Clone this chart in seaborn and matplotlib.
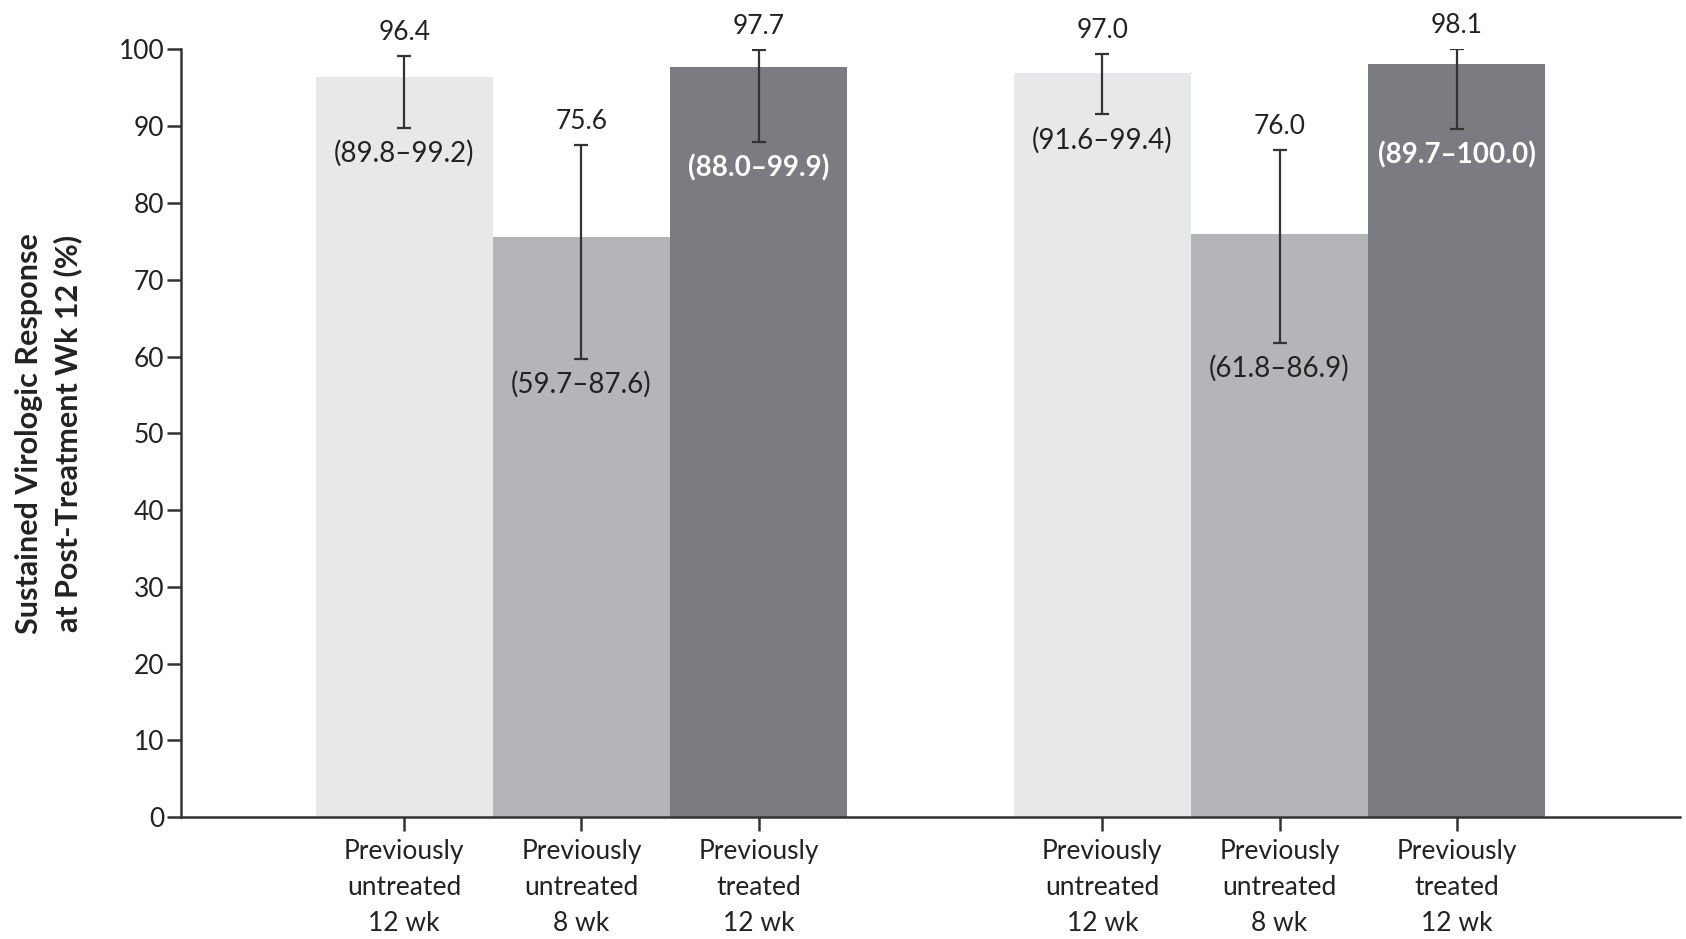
import matplotlib
matplotlib.use("Agg")
import matplotlib.pyplot as plt
import numpy as np
import pandas as pd
import seaborn as sns

# SVR12 by patient group, two study cohorts of three arms each
arms = ["Previously\nuntreated\n12 wk", "Previously\nuntreated\n8 wk", "Previously\ntreated\n12 wk"]
cohort_a_svr = [96.4, 75.6, 97.7]
cohort_a_lo = [89.8, 59.7, 88.0]
cohort_a_hi = [99.2, 87.6, 99.9]
cohort_b_svr = [97.0, 76.0, 98.1]
cohort_b_lo = [91.6, 61.8, 89.7]
cohort_b_hi = [99.4, 86.9, 100.0]
y_ticks = [0, 10, 20, 30, 40, 50, 60, 70, 80, 90, 100]

arm_colors = {arms[0]: "#e6e8ea", arms[1]: "#b3b5b9", arms[2]: "#7a7c81"}
ci_text_colors = {arms[0]: "#222222", arms[1]: "#222222", arms[2]: "#ffffff"}

group_gap = 0.94
pos = np.concatenate([np.arange(3), np.arange(3) + 3 + group_gap])
df = pd.DataFrame({
    "pos": pos,
    "arm": arms + arms,
    "svr": cohort_a_svr + cohort_b_svr,
    "lo": cohort_a_lo + cohort_b_lo,
    "hi": cohort_a_hi + cohort_b_hi,
})

sns.set_style("white")
plt.rcParams["font.family"] = ["Lato", "DejaVu Sans"]

fig = plt.figure(figsize=(16.86, 9.39), dpi=100)
ax = fig.add_axes([0.1074, 0.1299, 0.889, 0.8174])

sns.barplot(data=df, x="pos", y="svr", hue="arm", hue_order=arms,
            palette=arm_colors, native_scale=True, dodge=False, width=1.0,
            saturation=1, errorbar=None, legend=False, linewidth=0, ax=ax)

ax.errorbar(df["pos"], df["svr"],
            yerr=[df["svr"] - df["lo"], df["hi"] - df["svr"]],
            fmt="none", ecolor="#333333", elinewidth=1.6, capsize=5, capthick=1.6,
            zorder=5)

for _, r in df.iterrows():
    ax.annotate(f"{r.svr:.1f}", (r.pos, r.hi), xytext=(0, 8), textcoords="offset points",
                ha="center", va="bottom", fontsize=19, color="#222222", annotation_clip=False)
    ax.annotate(f"({r.lo:.1f}\u2013{r.hi:.1f})", (r.pos, r.lo), xytext=(0, -9),
                textcoords="offset points", ha="center", va="top", fontsize=20,
                color=ci_text_colors[r.arm],
                fontweight="bold" if ci_text_colors[r.arm] == "#ffffff" else "normal")

ax.set_xlim(-1.26, pos[-1] + 1.26)
ax.set_ylim(0, 100)
ax.set_yticks(y_ticks)
ax.set_xticks(pos)
ax.set_xticklabels(arms + arms, linespacing=1.55)
ax.tick_params(axis="both", direction="out", length=10, width=1.8, color="#333333",
               labelsize=19, labelcolor="#222222", pad=2, left=True, bottom=True)
ax.tick_params(axis="x", pad=6)
ax.set_xlabel("")
ax.set_ylabel("Sustained Virologic Response\nat Post-Treatment Wk 12 (%)",
              fontsize=22, fontweight="bold", color="#222222", linespacing=1.45, labelpad=26)

for side in ("top", "right"):
    ax.spines[side].set_visible(False)
for side in ("left", "bottom"):
    ax.spines[side].set_linewidth(1.8)
    ax.spines[side].set_color("#333333")

fig.savefig("out.png", dpi=100)
